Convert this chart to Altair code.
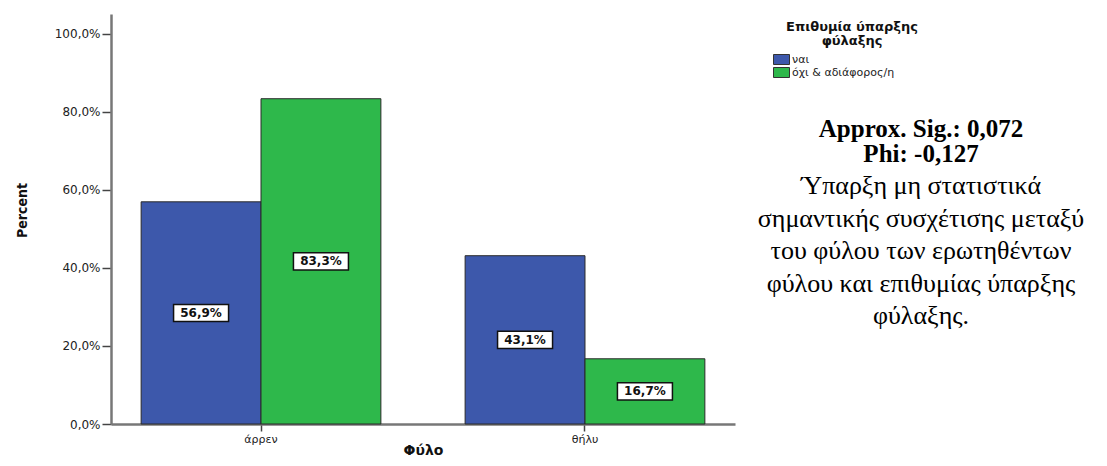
import altair as alt
import pandas as pd

# ---- data ----
sex = ["άρρεν", "άρρεν", "θήλυ", "θήλυ"]
choice = ["ναι", "όχι & αδιάφορος/η", "ναι", "όχι & αδιάφορος/η"]
percent = [56.9, 83.3, 43.1, 16.7]
labels = ["56,9%", "83,3%", "43,1%", "16,7%"]

choice_order = ["ναι", "όχι & αδιάφορος/η"]
colors = ["#3D58AB", "#2EB84B"]
y_ticks = [0, 20, 40, 60, 80, 100]

legend_title_lines = ["Επιθυμία ύπαρξης", "φύλαξης"]
bold_note = ["Approx. Sig.: 0,072", "Phi: -0,127"]
plain_note = [
    "Ύπαρξη μη στατιστικά",
    "σημαντικής συσχέτισης μεταξύ",
    "του φύλου των ερωτηθέντων",
    "φύλου και επιθυμίας ύπαρξης",
    "φύλαξης.",
]

df = pd.DataFrame({"sex": sex, "choice": choice, "pct": percent, "label": labels})
df["half"] = df["pct"] / 2

W, H = 624, 410
SANS = "DejaVu Sans"

x_enc = alt.X(
    "sex:N",
    title="Φύλο",
    scale=alt.Scale(paddingInner=0.26, paddingOuter=0.093),
    axis=alt.Axis(
        labelAngle=0,
        labelFont=SANS,
        labelFontSize=11,
        labelColor="#222",
        tickColor="#444",
        tickSize=7,
        tickWidth=1.5,
        domainColor="#777",
        domainWidth=2.5,
        titleFont=SANS,
        titleFontSize=14,
        titleFontWeight="bold",
        titleBaseline="alphabetic",
        titleY=30,
        titleColor="#111",
    ),
)
xoff = alt.XOffset("choice:N", sort=choice_order, scale=alt.Scale(paddingInner=0, paddingOuter=0))

bars = alt.Chart(df).mark_bar(stroke="#2a2a2a", strokeWidth=1).encode(
    x=x_enc,
    xOffset=xoff,
    y=alt.Y(
        "pct:Q",
        title="Percent",
        scale=alt.Scale(domain=[0, 105], nice=False),
        axis=alt.Axis(
            values=y_ticks,
            grid=False,
            labelExpr="replace(format(datum.value, '.1f'), '.', ',') + '%'",
            labelFont=SANS,
            labelFontSize=12,
            labelColor="#222",
            tickColor="#444",
            tickSize=9,
            tickWidth=1.5,
            labelPadding=2,
            domainColor="#777",
            domainWidth=2.5,
            titleFont="'DejaVu Sans Condensed', 'Liberation Sans', sans-serif",
            titleFontSize=14,
            titleFontWeight="bold",
            titleColor="#111",
            titleX=-82,
            titleY=196,
        ),
    ),
    color=alt.Color(
        "choice:N",
        sort=choice_order,
        scale=alt.Scale(domain=choice_order, range=colors),
        legend=alt.Legend(
            title=None,
            orient="none",
            legendX=665,
            legendY=40,
            symbolType="M-1.6,-1L1.6,-1L1.6,1L-1.6,1Z",
            symbolSize=100,
            symbolStrokeColor="#333",
            symbolStrokeWidth=1,
            symbolOpacity=1,
            labelFont=SANS,
            labelFontSize=11,
            labelColor="#222",
            labelOffset=5,
            rowPadding=-2,
        ),
    ),
)

boxes = alt.Chart(df).mark_point(
    shape="M-1,-0.31L1,-0.31L1,0.31L-1,0.31Z",
    size=3025,
    filled=True,
    fill="white",
    stroke="#111",
    strokeWidth=1.5,
    opacity=1,
).encode(x="sex:N", xOffset=xoff, y="half:Q")

texts = alt.Chart(df).mark_text(
    font=SANS, fontSize=12, fontWeight="bold", color="#111"
).encode(x="sex:N", xOffset=xoff, y="half:Q", text="label:N")

one = pd.DataFrame({"k": [0]})

leg_title = alt.Chart(one).mark_text(
    font=SANS, fontSize=13, fontWeight="bold", color="#111",
    align="center", baseline="middle", lineHeight=14,
).encode(x=alt.value(741), y=alt.value(13), text=alt.value(legend_title_lines))

note_bold = alt.Chart(one).mark_text(
    font="Liberation Serif", fontSize=25, fontWeight="bold", color="#000",
    align="center", baseline="middle", lineHeight=25,
).encode(x=alt.value(810), y=alt.value(115), text=alt.value(bold_note))

note_plain = alt.Chart(one).mark_text(
    font="Liberation Serif", fontSize=26, color="#000",
    align="center", baseline="middle", lineHeight=32.5,
).encode(x=alt.value(810), y=alt.value(172), text=alt.value(plain_note))

chart = (
    alt.layer(bars, boxes, texts, leg_title, note_bold, note_plain)
    .properties(
        width=W,
        height=H,
        background="white",
        autosize=alt.AutoSizeParams(type="none"),
        padding={"left": 103, "top": 6, "right": 360, "bottom": 34},
    )
    .configure_view(strokeWidth=0, stroke=None)
)

chart.save("out.html", embed_options={"renderer": "svg", "actions": False})
